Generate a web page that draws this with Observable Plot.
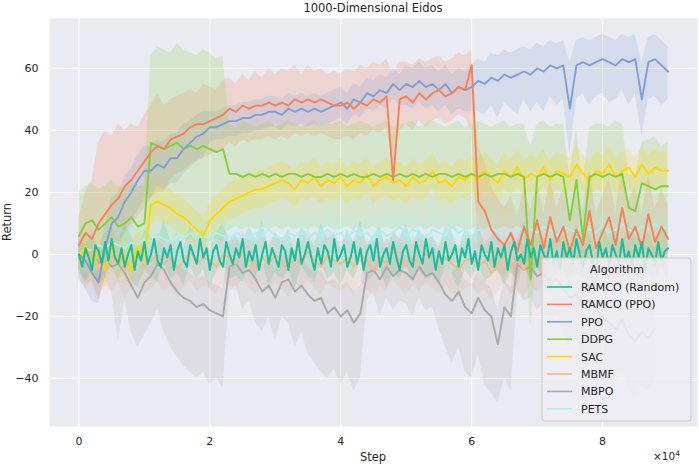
<!DOCTYPE html>
<html>
<head>
<meta charset="utf-8">
<script src="https://cdn.jsdelivr.net/npm/d3@7"></script>
<script src="https://cdn.jsdelivr.net/npm/@observablehq/plot@0.6"></script>
<style>
  html, body { margin: 0; padding: 0; background: #ffffff; }
  #chart svg { display: block; }
</style>
</head>
<body>
<div id="chart"></div>
<script>
// Step (thousands)
const stepK = [
  0,1,2,3,4,5,6,7,8,9,
  10,11,12,13,14,15,16,17,18,19,
  20,21,22,23,24,25,26,27,28,29,
  30,31,32,33,34,35,36,37,38,39,
  40,41,42,43,44,45,46,47,48,49,
  50,51,52,53,54,55,56,57,58,59,
  60,61,62,63,64,65,66,67,68,69,
  70,71,72,73,74,75,76,77,78,79,
  80,81,82,83,84,85,86,87,88,89,
  90];
// finer step grid (thousands) for the RAMCO (Random) mean line
const stepHalfK = [
  0,0.5,1,1.5,2,2.5,3,3.5,4,4.5,5,5.5,6,6.5,7,7.5,8,8.5,9,9.5,
  10,10.5,11,11.5,12,12.5,13,13.5,14,14.5,15,15.5,16,16.5,17,17.5,18,18.5,19,19.5,
  20,20.5,21,21.5,22,22.5,23,23.5,24,24.5,25,25.5,26,26.5,27,27.5,28,28.5,29,29.5,
  30,30.5,31,31.5,32,32.5,33,33.5,34,34.5,35,35.5,36,36.5,37,37.5,38,38.5,39,39.5,
  40,40.5,41,41.5,42,42.5,43,43.5,44,44.5,45,45.5,46,46.5,47,47.5,48,48.5,49,49.5,
  50,50.5,51,51.5,52,52.5,53,53.5,54,54.5,55,55.5,56,56.5,57,57.5,58,58.5,59,59.5,
  60,60.5,61,61.5,62,62.5,63,63.5,64,64.5,65,65.5,66,66.5,67,67.5,68,68.5,69,69.5,
  70,70.5,71,71.5,72,72.5,73,73.5,74,74.5,75,75.5,76,76.5,77,77.5,78,78.5,79,79.5,
  80,80.5,81,81.5,82,82.5,83,83.5,84,84.5,85,85.5,86,86.5,87,87.5,88,88.5,89,89.5,
  90];

const algorithms = ["RAMCO (Random)", "RAMCO (PPO)", "PPO", "DDPG", "SAC", "MBMF", "MBPO", "PETS"];
const colors = ["#1abc9c", "#fb7f50", "#7f9fd4", "#80d03c", "#ffd700", "#f7b985", "#a9a9a9", "#aeeeee"];

const xTicks = [0, 20000, 40000, 60000, 80000];
const yTicks = [-40, -20, 0, 20, 40, 60];

// RAMCO (Random) mean on the finer grid
const ramcoRandomMean = [
  0,-4,2,-1,-5,3,1,-3,4,-2,
  5,-1,-3,2,-4,0,3,-5,1,-2,
  4,-3,0,5,-2,-4,2,-1,3,-5,
  1,4,-2,-4,3,0,-3,5,-1,2,
  -5,1,3,-2,-4,4,0,-3,2,-1,
  5,-4,1,-2,3,-5,0,4,-3,2,
  -1,-4,3,1,-5,2,-2,5,-3,0,
  4,-1,-5,2,-3,3,1,-4,5,-2,
  0,3,-4,-1,4,-3,2,-5,1,3,
  -2,5,-4,0,2,-3,4,-1,-5,1,
  3,-2,-4,4,0,-3,5,-1,2,-5,
  1,-3,4,-2,0,3,-4,2,-1,5,
  -3,1,-5,3,0,-2,4,-4,2,-1,
  3,-5,1,4,-2,0,-3,5,-1,2,
  -4,3,0,-2,5,-3,1,-5,4,-1,
  2,-3,5,0,-4,1,3,-2,-5,4,
  -1,2,-4,3,0,-3,5,-2,1,-4,
  3,-1,4,-5,2,0,-3,4,-2,1,
  2];
const ramcoRandomLo = [
  -6,-9,-5,-10,-6,-4,-8,-3,-8,-11,
  -5,-7,-9,-2,-8,-6,-10,-4,-8,-5,
  -11,-6,-3,-8,-7,-9,-4,-8,-2,-10,
  -6,-8,-5,-11,-4,-7,-9,-3,-8,-6,
  -10,-5,-8,-2,-9,-7,-4,-11,-6,-8,
  -3,-9,-5,-8,-7,-10,-4,-6,-11,-5,
  -8,-3,-9,-7,-5,-10,-6,-8,-2,-9,
  -4,-8,-10,-5,-7,-9,-3,-8,-6,-11,
  -4,-8,-5,-9,-3,-7,-8,-6,-10,-4,
  -6];
const ramcoRandomHi = [
  5,3,8,2,7,9,4,10,6,1,
  8,6,3,11,4,7,2,9,5,8,
  1,7,10,4,6,3,9,5,11,2,
  7,4,8,1,9,6,3,10,5,7,
  2,8,4,11,3,6,9,1,7,5,
  10,3,8,4,6,2,9,7,1,8,
  5,10,3,6,8,2,7,4,11,3,
  9,5,2,8,6,3,10,4,7,1,
  9,5,8,3,10,6,4,7,2,9,
  7];

// RAMCO (PPO)
const ramcoPPOMean = [
  3,7,5,10,13,16,18,22,24,27,
  30,33,35,34,37,38,39,41,42,42,
  43,44,45,47,46,48,47,48,48,49,
  48,49,48,50,49,50,49,50,49,48,
  48,49,47,49,48,50,49,51,24,50,
  51,49,52,50,52,53,51,52,54,53,
  61,17,14,8,5,3,7,1,9,3,
  11,2,12,4,9,1,8,3,14,2,
  7,12,3,15,5,9,2,13,4,9,
  5];
const ramcoPPOLo = [
  -5,-10,-8,-15,-8,-2,2,6,9,12,
  15,18,22,21,24,26,27,29,30,31,
  32,33,34,36,35,37,36,37,37,38,
  37,38,37,39,38,39,38,39,38,37,
  37,38,37,39,38,40,39,41,30,40,
  42,40,43,41,43,44,42,43,45,44,
  40,2,0,-4,-6,-8,-5,-10,-4,-8,
  -3,-10,-2,-8,-4,-10,-5,-9,-1,-10,
  -6,-2,-9,0,-7,-4,-10,-1,-8,-4,
  -8];
const ramcoPPOHi = [
  12,20,24,36,40,38,42,40,42,41,
  45,48,52,48,50,51,52,53,52,55,
  54,53,56,57,55,58,56,59,57,60,
  58,60,59,61,58,61,59,60,58,59,
  58,60,59,61,60,62,61,63,58,62,
  62,61,63,62,63,64,62,63,65,64,
  66,35,30,22,18,15,19,12,22,14,
  24,13,25,15,21,12,20,14,27,13,
  19,25,14,28,17,22,13,26,15,21,
  16];

// PPO
const ppoMean = [
  0,-2,-6,-9,2,10,12,17,20,24,
  27,27,29,28,31,31,34,36,38,39,
  41,41,42,43,43,44,44,45,45,46,
  46,45,47,46,47,46,47,46,47,48,
  49,47,50,49,52,51,53,52,55,53,
  55,54,56,54,55,53,55,52,54,53,
  54,56,55,57,56,58,57,58,59,58,
  60,59,61,60,61,47,61,62,61,62,
  63,62,61,63,62,63,50,62,63,61,
  59];
const ppoLo = [
  -8,-11,-15,-16,-7,0,3,7,10,14,
  18,18,20,20,23,23,26,28,30,31,
  36,37,37,38,38,39,39,40,40,41,
  41,40,42,41,42,41,42,41,42,43,
  44,42,45,44,47,46,48,47,50,48,
  48,47,49,47,48,46,48,45,47,46,
  46,46,45,48,44,49,47,45,50,46,
  49,46,51,48,50,32,50,52,48,51,
  52,49,50,53,48,52,38,50,51,48,
  50];
const ppoHi = [
  6,7,3,0,10,18,20,25,28,32,
  35,35,37,36,39,39,42,43,45,46,
  46,46,47,48,48,49,49,50,50,51,
  51,50,52,51,52,51,52,51,52,53,
  54,52,55,54,57,56,58,57,60,58,
  61,60,62,60,61,59,61,58,60,59,
  61,63,62,65,64,66,65,66,67,66,
  68,67,69,68,69,62,69,70,69,70,
  71,70,69,71,70,71,62,70,71,69,
  67];

// DDPG
const ddpgMean = [
  6,10,11,8,10,12,9,10,12,9,
  10,36,35,34,35,36,34,35,34,35,
  34,33,34,26,26,25,26,25,26,25,
  26,25,26,26,25,26,25,25,26,25,
  26,25,26,25,25,26,25,26,25,26,
  25,26,25,26,25,26,26,25,26,25,
  26,25,26,25,26,26,25,26,25,-8,
  25,26,25,26,25,11,24,5,25,26,
  25,26,25,26,15,14,23,22,21,22,
  22];
const ddpgLo = [
  -2,0,-3,-1,0,-2,-1,0,-3,-1,
  0,6,5,4,5,6,4,5,4,5,
  4,5,4,8,9,8,9,8,9,8,
  9,8,9,8,9,8,9,8,9,8,
  8,9,8,9,8,9,8,9,8,9,
  9,8,9,8,9,8,9,8,9,8,
  8,9,8,9,8,9,8,9,8,-24,
  2,3,1,2,3,-6,2,-10,1,2,
  1,2,0,1,-4,-5,0,-1,0,-1,
  0];
const ddpgHi = [
  20,22,23,21,22,24,22,21,23,22,
  22,64,67,66,65,68,66,65,64,66,
  65,63,64,42,41,43,42,41,42,43,
  41,42,43,42,41,42,43,41,42,42,
  43,41,42,43,42,41,42,43,41,42,
  42,43,41,42,43,42,41,42,43,41,
  42,43,42,41,42,43,41,42,42,35,
  42,43,41,42,42,25,41,22,41,42,
  42,41,43,42,26,25,36,37,38,35,
  36];

// SAC
const sacMean = [
  -2,3,-4,1,-5,2,-3,0,-5,3,
  -1,16,17,16,15,13,12,10,8,6,
  11,13,15,17,18,19,20,21,21,22,
  23,24,23,21,24,23,25,22,24,23,
  25,22,24,23,26,22,24,25,23,24,
  22,25,23,24,27,23,24,22,25,24,
  26,24,27,25,23,27,25,28,24,26,
  25,28,24,27,26,25,29,26,24,27,
  26,29,25,27,28,25,29,26,28,27,
  27];
const sacLo = [
  -8,-3,-10,-5,-11,-4,-9,-6,-11,-3,
  -7,10,11,10,9,7,6,4,2,0,
  5,7,9,11,12,13,14,15,15,16,
  17,18,17,15,18,17,19,16,18,17,
  19,16,18,17,20,16,18,19,17,18,
  16,19,17,18,21,17,18,16,19,18,
  20,18,21,19,17,21,19,22,18,20,
  19,22,18,21,20,19,23,20,18,21,
  20,23,19,21,22,19,23,20,22,21,
  21];
const sacHi = [
  4,9,2,7,1,8,3,6,1,9,
  5,22,23,22,21,19,18,16,14,12,
  17,19,21,23,24,25,26,27,27,28,
  29,30,29,27,30,29,31,28,30,29,
  31,28,30,29,32,28,30,31,29,30,
  28,31,29,30,33,29,30,28,31,30,
  32,30,33,31,29,33,31,34,30,32,
  31,34,30,33,32,31,35,32,30,33,
  32,35,31,33,34,31,35,32,34,33,
  33];

// MBMF
const mbmfMean = [
  0,-2,1,-4,-1,-3,0,-5,-2,-1,
  -4,-2,0,-3,-1,-5,-2,1,-3,-1,
  -2,-4,0,-1,-3,1,-2,-4,-1,-3,
  0,-2,-5,-1,-3,1,-2,-4,0,-2,
  -3,-1,-4,0,-2,-5,-1,-3,1,-2,
  -4,-1,-3,0,-2,-4,-1,-3,-5,-2,
  -1,-4,-2,-6,-3,0,-4,-2,-5,-1,
  -3,-1,-4,-2,0,-3,-5,-1,-2,-4,
  0,-2,-4,-1,-3,-5,-2,0,-3,-1,
  -2];
const mbmfLo = [
  -8,-11,-9,-13,-10,-12,-9,-14,-11,-10,
  -13,-11,-9,-12,-10,-14,-11,-8,-12,-10,
  -11,-13,-9,-10,-12,-8,-11,-13,-10,-12,
  -9,-11,-14,-10,-12,-8,-11,-13,-9,-11,
  -12,-10,-13,-9,-11,-14,-10,-12,-8,-11,
  -13,-10,-12,-9,-11,-13,-10,-12,-14,-11,
  -10,-13,-11,-15,-12,-9,-13,-11,-14,-10,
  -12,-10,-13,-11,-9,-12,-14,-10,-11,-13,
  -9,-11,-13,-10,-12,-14,-11,-9,-12,-10,
  -11];
const mbmfHi = [
  6,5,8,3,6,4,7,2,5,6,
  3,5,7,4,6,2,5,8,4,6,
  5,3,7,6,4,8,5,3,6,4,
  7,5,2,6,4,8,5,3,7,5,
  4,6,3,7,5,2,6,4,8,5,
  3,6,4,7,5,3,6,4,2,5,
  6,3,5,1,4,7,3,5,2,6,
  4,6,3,5,7,4,2,6,5,3,
  7,5,3,6,4,2,5,7,4,6,
  5];

// MBPO
const mbpoMean = [
  0,-2,1,-3,-1,-4,-3,-6,-10,-14,
  -9,-7,-3,-5,-9,-12,-14,-15,-17,-16,
  -18,-19,-20,-4,-3,-6,-5,-8,-12,-10,
  -14,-9,-8,-12,-10,-13,-15,-14,-19,-17,
  -20,-18,-22,-19,-6,-5,-8,-4,-7,-5,
  -6,-8,-4,-7,-6,-9,-13,-15,-12,-17,
  -19,-14,-18,-20,-29,-17,-20,-3,-5,-4,
  -7,-6,-9,-8,-11,-14,-13,-16,-15,-18,
  -20,-22,-24,-21,-26,-28,-25,-27,-24,null,
  null];
const mbpoLo = [
  -5,-8,-6,-10,-8,-12,-28,-15,-25,-30,
  -26,-22,-18,-25,-30,-33,-36,-38,-40,-38,
  -42,-40,-43,-12,-10,-18,-15,-22,-25,-20,
  -28,-20,-22,-30,-25,-32,-35,-38,-40,-37,
  -42,-38,-44,-40,-15,-12,-20,-14,-18,-15,
  -16,-20,-14,-18,-17,-24,-30,-35,-30,-38,
  -40,-32,-42,-45,-48,-40,-44,-12,-15,-14,
  -18,-16,-22,-20,-25,-30,-28,-34,-32,-36,
  -38,-40,-42,-38,-44,-46,-42,-44,-40,null,
  null];
const mbpoHi = [
  5,3,6,2,4,1,2,0,-3,-5,
  0,2,5,3,0,-3,-5,-6,-8,-7,
  -9,-10,-11,4,5,2,3,0,-4,-2,
  -5,0,1,-3,-1,-4,-6,-5,-9,-8,
  -10,-9,-12,-10,3,4,1,5,2,4,
  3,1,5,2,3,0,-4,-6,-3,-8,
  -10,-5,-9,-11,-18,-8,-11,5,3,4,
  1,2,-1,0,-3,-5,-4,-7,-6,-9,
  -11,-13,-14,-12,-16,-18,-15,-17,-14,null,
  null];

// PETS
const petsMean = [
  0,2,1,3,2,4,3,2,4,3,
  5,4,6,5,4,6,5,7,5,6,
  5,7,6,5,7,6,5,7,6,8,
  6,5,7,6,8,5,7,6,8,6,
  7,5,8,6,7,5,8,6,7,9,
  6,8,7,5,8,7,6,9,7,8,
  6,8,7,9,7,6,8,7,9,8,
  7,9,8,6,9,8,7,10,8,7,
  9,7,8,10,8,7,9,8,10,8,
  9];
const petsLo = [
  -8,-6,-7,-5,-6,-4,-5,-6,-4,-5,
  -3,-4,-2,-3,-4,-2,-3,-1,-3,-2,
  -3,-1,-2,-3,-1,-2,-3,-1,-2,0,
  -2,-3,-1,-2,0,-3,-1,-2,0,-2,
  -1,-3,0,-2,-1,-3,0,-2,-1,1,
  -2,0,-1,-3,0,-1,-2,1,-1,0,
  -2,0,-1,1,-1,-2,0,-1,1,0,
  -1,1,0,-2,1,0,-1,2,0,-1,
  1,-1,0,2,0,-1,1,0,2,0,
  1];
const petsHi = [
  6,8,7,9,8,10,9,8,10,9,
  11,10,12,11,10,12,11,13,11,12,
  11,13,12,11,13,12,11,13,12,14,
  12,11,13,12,14,11,13,12,14,12,
  13,11,14,12,13,11,14,12,13,15,
  12,14,13,11,14,13,12,15,13,14,
  12,14,13,15,13,12,14,13,15,14,
  13,15,14,12,15,14,13,16,14,13,
  15,13,14,16,14,13,15,14,16,14,
  15];

const means = [ramcoRandomMean, ramcoPPOMean, ppoMean, ddpgMean, sacMean, mbmfMean, mbpoMean, petsMean];
const meanSteps = [stepHalfK, stepK, stepK, stepK, stepK, stepK, stepK, stepK];
const los = [ramcoRandomLo, ramcoPPOLo, ppoLo, ddpgLo, sacLo, mbmfLo, mbpoLo, petsLo];
const his = [ramcoRandomHi, ramcoPPOHi, ppoHi, ddpgHi, sacHi, mbmfHi, mbpoHi, petsHi];

function bandRows(a) {
  const out = [];
  stepK.forEach((k, i) => {
    if (los[a][i] == null || his[a][i] == null) return;
    out.push({algorithm: algorithms[a], step: k * 1000, lo: los[a][i], hi: his[a][i]});
  });
  return out;
}
function lineRows(a) {
  const out = [];
  meanSteps[a].forEach((k, i) => {
    const m = means[a][i];
    if (m == null) return;
    out.push({algorithm: algorithms[a], step: k * 1000, mean: m});
  });
  return out;
}
const bandTables = algorithms.map((_, a) => bandRows(a));
const lineTables = algorithms.map((_, a) => lineRows(a));

const W = 699, H = 465;
const mL = 49, mR = 2, mT = 18, mB = 39;
const FONT = "DejaVu Sans, sans-serif";
const INK = "#262626";

const bandMarks = algorithms.map((name, a) =>
  Plot.areaY(bandTables[a], {x: "step", y1: "lo", y2: "hi", fill: colors[a], fillOpacity: 0.2, curve: "linear"}));
const lineOrder = [7, 6, 5, 4, 3, 2, 1, 0];
const lineMarks = lineOrder.map(a =>
  Plot.lineY(lineTables[a], {x: "step", y: "mean", stroke: colors[a], strokeWidth: a === 0 ? 2 : 1.9, curve: "linear"}));

const fmtY = d => d < 0 ? "\u2212" + Math.abs(d) : String(d);

const chart = Plot.plot({
  width: W, height: H,
  marginLeft: mL, marginRight: mR, marginTop: mT, marginBottom: mB,
  style: {fontFamily: FONT, fontSize: "11px", color: INK, background: "#ffffff", overflow: "visible"},
  x: {domain: [-4500, 94500]},
  y: {domain: [-55.5, 76.1]},
  marks: [
    Plot.frame({fill: "#EAEAF2", stroke: null}),
    Plot.gridX(xTicks, {stroke: "#ffffff", strokeOpacity: 1, strokeWidth: 1}),
    Plot.gridY(yTicks, {stroke: "#ffffff", strokeOpacity: 1, strokeWidth: 1}),
    ...bandMarks,
    ...lineMarks,
    Plot.axisX(xTicks, {tickSize: 0, tickPadding: 11, tickFormat: d => String(d / 10000), label: null, fill: INK, fontSize: 11}),
    Plot.axisY(yTicks, {tickSize: 0, tickPadding: 11, tickFormat: fmtY, label: null, fill: INK, fontSize: 11})
  ]
});
document.getElementById("chart").appendChild(chart);

// Titles, labels, legend (layout)
const svg = d3.select(chart);
const cx = mL + (W - mL - mR) / 2;
const cy = mT + (H - mT - mB) / 2;
svg.append("text").attr("x", cx).attr("y", 12).attr("text-anchor", "middle")
  .attr("font-family", FONT).attr("font-size", 11.5).attr("fill", INK).text("1000-Dimensional Eidos");
svg.append("text").attr("x", cx).attr("y", 461).attr("text-anchor", "middle")
  .attr("font-family", FONT).attr("font-size", 11.5).attr("fill", INK).text("Step");
svg.append("text").attr("transform", `translate(11,${cy}) rotate(-90)`).attr("text-anchor", "middle")
  .attr("font-family", FONT).attr("font-size", 11.5).attr("fill", INK).text("Return");
const ex = svg.append("text").attr("x", 680).attr("y", 460).attr("text-anchor", "end")
  .attr("font-family", FONT).attr("font-size", 10.5).attr("fill", INK);
ex.append("tspan").text("\u00d710");
ex.append("tspan").attr("dy", -4).attr("font-size", 7.5).text("4");

const lg = svg.append("g");
lg.append("rect").attr("x", 542).attr("y", 258).attr("width", 149).attr("height", 163).attr("rx", 3)
  .attr("fill", "#EDEDF3").attr("fill-opacity", 0.85).attr("stroke", "#cccccc").attr("stroke-width", 1);
lg.append("text").attr("x", 617).attr("y", 273).attr("text-anchor", "middle")
  .attr("font-family", FONT).attr("font-size", 11).attr("fill", INK).text("Algorithm");
algorithms.forEach((name, i) => {
  const y = 287 + i * 17.4;
  lg.append("line").attr("x1", 547).attr("x2", 572).attr("y1", y).attr("y2", y)
    .attr("stroke", colors[i]).attr("stroke-width", 1.6);
  lg.append("text").attr("x", 581).attr("y", y + 4).attr("text-anchor", "start")
    .attr("font-family", FONT).attr("font-size", 11)
    .attr("fill", INK).text(name);
});
</script>
</body>
</html>
